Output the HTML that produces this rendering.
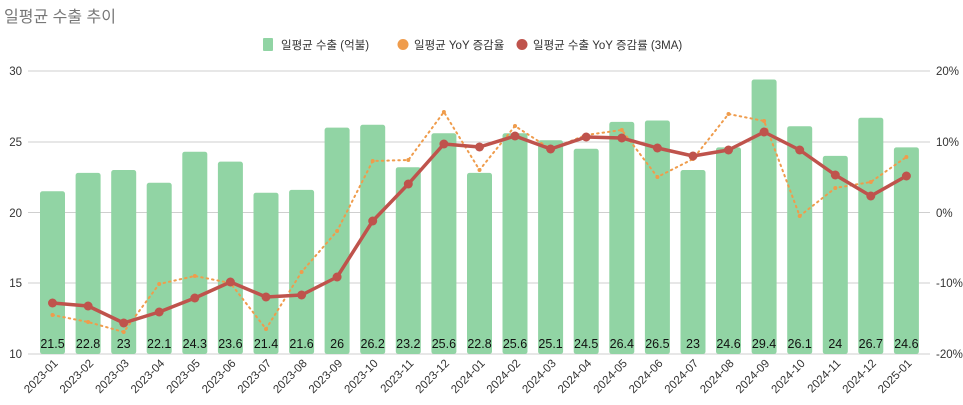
<!DOCTYPE html>
<html><head><meta charset="utf-8"><style>
html,body{margin:0;padding:0;background:#fff;}
svg{display:block;font-family:"Liberation Sans","Noto Sans CJK KR",sans-serif;}
</style></head><body>
<svg width="963" height="405" viewBox="0 0 963 405" xmlns="http://www.w3.org/2000/svg">
<text x="4" y="22" font-size="16" fill="#777">일평균 수출 추이</text>
<g font-size="11.5" fill="#333">
<rect x="263" y="38" width="10" height="13" rx="1" fill="#91d4a4"/><text x="281" y="49">일평균 수출 (억불)</text>
<circle cx="403" cy="44.5" r="5.5" fill="#ef9c4c"/><text x="414" y="49">일평균 YoY 증감율</text>
<circle cx="522" cy="44.5" r="5.5" fill="#bf534c"/><text x="533" y="49">일평균 수출 YoY 증감률 (3MA)</text>
</g>
<g stroke="#cfcfcf" stroke-width="1">
<line x1="28" y1="71" x2="930" y2="71"/><line x1="28" y1="142" x2="930" y2="142"/><line x1="28" y1="212.5" x2="930" y2="212.5"/><line x1="28" y1="283" x2="930" y2="283"/><line x1="28" y1="354" x2="930" y2="354"/>
</g>
<g font-size="11.5" fill="#333" text-anchor="end">
<text x="22" y="75">30</text><text x="22" y="146">25</text><text x="22" y="217">20</text><text x="22" y="287">15</text><text x="22" y="358">10</text>
</g>
<g font-size="11.5" fill="#333">
<text x="936" y="75">20%</text><text x="936" y="146">10%</text><text x="936" y="217">0%</text><text x="936" y="287">-10%</text><text x="936" y="358">-20%</text>
</g>
<g fill="#91d4a4">
<rect x="40" y="191.3" width="25" height="162.7" rx="2.5"/>
<rect x="75.6" y="172.9" width="25" height="181.1" rx="2.5"/>
<rect x="111.2" y="170" width="25" height="184" rx="2.5"/>
<rect x="146.7" y="182.8" width="25" height="171.2" rx="2.5"/>
<rect x="182.3" y="151.7" width="25" height="202.3" rx="2.5"/>
<rect x="217.9" y="161.6" width="25" height="192.4" rx="2.5"/>
<rect x="253.5" y="192.7" width="25" height="161.3" rx="2.5"/>
<rect x="289.1" y="189.9" width="25" height="164.1" rx="2.5"/>
<rect x="324.6" y="127.6" width="25" height="226.4" rx="2.5"/>
<rect x="360.2" y="124.8" width="25" height="229.2" rx="2.5"/>
<rect x="395.8" y="167.2" width="25" height="186.8" rx="2.5"/>
<rect x="431.4" y="133.3" width="25" height="220.7" rx="2.5"/>
<rect x="467" y="172.9" width="25" height="181.1" rx="2.5"/>
<rect x="502.5" y="133.3" width="25" height="220.7" rx="2.5"/>
<rect x="538.1" y="140.3" width="25" height="213.7" rx="2.5"/>
<rect x="573.7" y="148.8" width="25" height="205.2" rx="2.5"/>
<rect x="609.3" y="121.9" width="25" height="232.1" rx="2.5"/>
<rect x="644.9" y="120.5" width="25" height="233.5" rx="2.5"/>
<rect x="680.5" y="170" width="25" height="184" rx="2.5"/>
<rect x="716" y="147.4" width="25" height="206.6" rx="2.5"/>
<rect x="751.6" y="79.5" width="25" height="274.5" rx="2.5"/>
<rect x="787.2" y="126.2" width="25" height="227.8" rx="2.5"/>
<rect x="822.8" y="155.9" width="25" height="198.1" rx="2.5"/>
<rect x="858.3" y="117.7" width="25" height="236.3" rx="2.5"/>
<rect x="893.9" y="147.4" width="25" height="206.6" rx="2.5"/>
</g>
<polyline fill="none" stroke="#ef9c4c" stroke-width="2" stroke-dasharray="1.5 4" stroke-linecap="round" points="52.5,315 88.1,322 123.7,332 159.2,284 194.8,276 230.4,283 266,329 301.6,272 337.1,231 372.7,161 408.3,160 443.9,112 479.5,170 515,126 550.6,149 586.2,135 621.8,130 657.4,177 693,159 728.5,114 764.1,121 799.7,216 835.3,188 870.8,182 906.4,157"/>
<g fill="#ef9c4c">
<circle cx="52.5" cy="315" r="2"/><circle cx="88.1" cy="322" r="2"/><circle cx="123.7" cy="332" r="2"/><circle cx="159.2" cy="284" r="2"/><circle cx="194.8" cy="276" r="2"/><circle cx="230.4" cy="283" r="2"/><circle cx="266" cy="329" r="2"/><circle cx="301.6" cy="272" r="2"/><circle cx="337.1" cy="231" r="2"/><circle cx="372.7" cy="161" r="2"/><circle cx="408.3" cy="160" r="2"/><circle cx="443.9" cy="112" r="2"/><circle cx="479.5" cy="170" r="2"/><circle cx="515" cy="126" r="2"/><circle cx="550.6" cy="149" r="2"/><circle cx="586.2" cy="135" r="2"/><circle cx="621.8" cy="130" r="2"/><circle cx="657.4" cy="177" r="2"/><circle cx="693" cy="159" r="2"/><circle cx="728.5" cy="114" r="2"/><circle cx="764.1" cy="121" r="2"/><circle cx="799.7" cy="216" r="2"/><circle cx="835.3" cy="188" r="2"/><circle cx="870.8" cy="182" r="2"/><circle cx="906.4" cy="157" r="2"/>
</g>
<polyline fill="none" stroke="#bf534c" stroke-width="3.5" stroke-linejoin="round" points="52.5,303 88.1,306 123.7,323 159.2,312 194.8,298 230.4,282 266,297 301.6,295 337.1,277 372.7,221 408.3,184 443.9,144 479.5,147 515,136 550.6,149 586.2,137 621.8,138 657.4,148 693,156 728.5,150 764.1,132 799.7,150 835.3,175 870.8,196 906.4,176"/>
<g fill="#bf534c">
<circle cx="52.5" cy="303" r="4.5"/><circle cx="88.1" cy="306" r="4.5"/><circle cx="123.7" cy="323" r="4.5"/><circle cx="159.2" cy="312" r="4.5"/><circle cx="194.8" cy="298" r="4.5"/><circle cx="230.4" cy="282" r="4.5"/><circle cx="266" cy="297" r="4.5"/><circle cx="301.6" cy="295" r="4.5"/><circle cx="337.1" cy="277" r="4.5"/><circle cx="372.7" cy="221" r="4.5"/><circle cx="408.3" cy="184" r="4.5"/><circle cx="443.9" cy="144" r="4.5"/><circle cx="479.5" cy="147" r="4.5"/><circle cx="515" cy="136" r="4.5"/><circle cx="550.6" cy="149" r="4.5"/><circle cx="586.2" cy="137" r="4.5"/><circle cx="621.8" cy="138" r="4.5"/><circle cx="657.4" cy="148" r="4.5"/><circle cx="693" cy="156" r="4.5"/><circle cx="728.5" cy="150" r="4.5"/><circle cx="764.1" cy="132" r="4.5"/><circle cx="799.7" cy="150" r="4.5"/><circle cx="835.3" cy="175" r="4.5"/><circle cx="870.8" cy="196" r="4.5"/><circle cx="906.4" cy="176" r="4.5"/>
</g>
<g font-size="12.5" fill="#111" text-anchor="middle">
<text x="52.5" y="348">21.5</text><text x="88.1" y="348">22.8</text><text x="123.7" y="348">23</text><text x="159.2" y="348">22.1</text><text x="194.8" y="348">24.3</text><text x="230.4" y="348">23.6</text><text x="266" y="348">21.4</text><text x="301.6" y="348">21.6</text><text x="337.1" y="348">26</text><text x="372.7" y="348">26.2</text><text x="408.3" y="348">23.2</text><text x="443.9" y="348">25.6</text><text x="479.5" y="348">22.8</text><text x="515" y="348">25.6</text><text x="550.6" y="348">25.1</text><text x="586.2" y="348">24.5</text><text x="621.8" y="348">26.4</text><text x="657.4" y="348">26.5</text><text x="693" y="348">23</text><text x="728.5" y="348">24.6</text><text x="764.1" y="348">29.4</text><text x="799.7" y="348">26.1</text><text x="835.3" y="348">24</text><text x="870.8" y="348">26.7</text><text x="906.4" y="348">24.6</text>
</g>
<g font-size="11.5" fill="#333" text-anchor="end">
<text transform="translate(58.5,364) rotate(-45)">2023-01</text>
<text transform="translate(94.1,364) rotate(-45)">2023-02</text>
<text transform="translate(129.7,364) rotate(-45)">2023-03</text>
<text transform="translate(165.2,364) rotate(-45)">2023-04</text>
<text transform="translate(200.8,364) rotate(-45)">2023-05</text>
<text transform="translate(236.4,364) rotate(-45)">2023-06</text>
<text transform="translate(272,364) rotate(-45)">2023-07</text>
<text transform="translate(307.6,364) rotate(-45)">2023-08</text>
<text transform="translate(343.1,364) rotate(-45)">2023-09</text>
<text transform="translate(378.7,364) rotate(-45)">2023-10</text>
<text transform="translate(414.3,364) rotate(-45)">2023-11</text>
<text transform="translate(449.9,364) rotate(-45)">2023-12</text>
<text transform="translate(485.5,364) rotate(-45)">2024-01</text>
<text transform="translate(521,364) rotate(-45)">2024-02</text>
<text transform="translate(556.6,364) rotate(-45)">2024-03</text>
<text transform="translate(592.2,364) rotate(-45)">2024-04</text>
<text transform="translate(627.8,364) rotate(-45)">2024-05</text>
<text transform="translate(663.4,364) rotate(-45)">2024-06</text>
<text transform="translate(699,364) rotate(-45)">2024-07</text>
<text transform="translate(734.5,364) rotate(-45)">2024-08</text>
<text transform="translate(770.1,364) rotate(-45)">2024-09</text>
<text transform="translate(805.7,364) rotate(-45)">2024-10</text>
<text transform="translate(841.3,364) rotate(-45)">2024-11</text>
<text transform="translate(876.8,364) rotate(-45)">2024-12</text>
<text transform="translate(912.4,364) rotate(-45)">2025-01</text>
</g>
</svg>
</body></html>
